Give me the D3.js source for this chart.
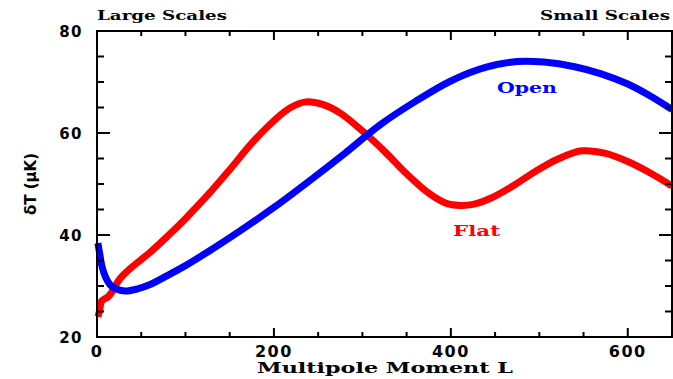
<!DOCTYPE html>
<html>
<head>
<meta charset="utf-8">
<script src="https://cdn.jsdelivr.net/npm/d3@7/dist/d3.min.js"></script>
<style>
  html, body { margin: 0; padding: 0; background: #fff; }
  svg { display: block; }
</style>
</head>
<body>
<svg id="chart" width="673" height="379"></svg>
<script>
// Multipole moment L for each curve, with the temperature fluctuation dT in microkelvin
const flatL  = [1, 3, 5, 8, 12, 16, 20, 25, 30, 40, 60, 80, 100, 125, 150, 175, 200, 218, 236, 255, 275, 300, 325, 350, 375, 395, 410, 425, 445, 470, 495, 520, 548, 575, 600, 625, 650];
const flatT  = [24.0, 25.2, 27.0, 27.4, 27.8, 28.6, 29.8, 31.2, 32.2, 33.8, 36.6, 39.8, 43.2, 47.8, 52.8, 58.0, 62.4, 64.9, 66.1, 65.6, 63.9, 60.4, 56.4, 52.0, 48.2, 46.2, 45.8, 46.0, 47.2, 49.6, 52.4, 54.8, 56.5, 56.0, 54.4, 52.2, 49.6];

const openL  = [1, 3, 6, 10, 15, 22, 32, 45, 60, 80, 100, 130, 160, 200, 240, 280, 320, 360, 400, 440, 475, 505, 540, 570, 600, 625, 650];
const openT  = [38.4, 36.4, 33.6, 31.6, 30.2, 29.4, 29.0, 29.4, 30.3, 32.1, 34.0, 37.2, 40.6, 45.4, 50.6, 56.0, 61.6, 66.2, 70.2, 72.9, 74.0, 73.9, 73.0, 71.6, 69.6, 67.3, 64.6];

const xTicks = [0, 200, 400, 600];
const yTicks = [20, 40, 60, 80];
const xMinor = d3.range(0, 651, 50);
const yMinor = d3.range(20, 81, 5);

const svg = d3.select("#chart");
const m = { left: 97, right: 672, top: 31, bottom: 337 };

const x = d3.scaleLinear().domain([0, 650]).range([m.left, m.right]);
const y = d3.scaleLinear().domain([20, 80]).range([m.bottom, m.top]);

const serif = "'DejaVu Serif', 'Liberation Serif', serif";
const sans  = "'DejaVu Sans', 'Liberation Sans', sans-serif";

// Curves
const line = d3.line()
  .x(d => x(d[0]))
  .y(d => y(d[1]))
  .curve(d3.curveCatmullRom.alpha(0.5));

const plot = svg.append("g");
plot.append("defs").append("clipPath").attr("id", "clip")
  .append("rect").attr("x", m.left - 4).attr("y", m.top).attr("width", m.right - m.left + 4).attr("height", m.bottom - m.top);

plot.append("path")
  .datum(d3.zip(flatL, flatT))
  .attr("d", line)
  .attr("fill", "none")
  .attr("stroke", "#ff0000")
  .attr("stroke-width", 7)
  .attr("clip-path", "url(#clip)");

plot.append("path")
  .datum(d3.zip(openL, openT))
  .attr("d", line)
  .attr("fill", "none")
  .attr("stroke", "#0000ff")
  .attr("stroke-width", 7)
  .attr("clip-path", "url(#clip)");

// Frame with inward ticks on all four sides
const frame = svg.append("g").attr("stroke", "#000").attr("stroke-width", 2);
frame.append("rect")
  .attr("x", m.left).attr("y", m.top)
  .attr("width", m.right - m.left).attr("height", m.bottom - m.top)
  .attr("fill", "none");

xMinor.forEach(v => {
  const len = xTicks.includes(v) ? 9 : 5;
  frame.append("line").attr("x1", x(v)).attr("x2", x(v)).attr("y1", m.bottom).attr("y2", m.bottom - len);
  frame.append("line").attr("x1", x(v)).attr("x2", x(v)).attr("y1", m.top).attr("y2", m.top + len);
});
yMinor.forEach(v => {
  const len = yTicks.includes(v) ? 13 : 7;
  frame.append("line").attr("x1", m.left).attr("x2", m.left + len).attr("y1", y(v)).attr("y2", y(v));
  frame.append("line").attr("x1", m.right).attr("x2", m.right - len).attr("y1", y(v)).attr("y2", y(v));
});

// Tick labels
svg.append("g").selectAll("text").data(xTicks).join("text")
  .attr("x", d => x(d))
  .attr("y", 357)
  .attr("text-anchor", "middle")
  .attr("font-family", sans).attr("font-weight", "bold").attr("font-size", 16)
  .attr("letter-spacing", 1.5)
  .text(d => d);

svg.append("g").selectAll("text").data(yTicks).join("text")
  .attr("x", 83)
  .attr("y", d => y(d) + 6)
  .attr("text-anchor", "end")
  .attr("font-family", sans).attr("font-weight", "bold").attr("font-size", 15)
  .attr("letter-spacing", 1.5)
  .text(d => d);

// Axis titles
svg.append("text")
  .attr("x", 257).attr("y", 373)
  .attr("textLength", 256).attr("lengthAdjust", "spacingAndGlyphs")
  .attr("font-family", serif).attr("font-weight", "bold").attr("font-size", 15)
  .text("Multipole Moment L");

svg.append("text")
  .attr("transform", "translate(36,184) rotate(-90)")
  .attr("text-anchor", "middle")
  .attr("font-family", sans).attr("font-weight", "bold").attr("font-size", 15)
  .text("δT (μK)");

// Scale annotations above the frame
svg.append("text")
  .attr("x", 97).attr("y", 20)
  .attr("textLength", 130).attr("lengthAdjust", "spacingAndGlyphs")
  .attr("font-family", serif).attr("font-weight", "bold").attr("font-size", 12)
  .text("Large Scales");

svg.append("text")
  .attr("x", 540).attr("y", 20)
  .attr("textLength", 130).attr("lengthAdjust", "spacingAndGlyphs")
  .attr("font-family", serif).attr("font-weight", "bold").attr("font-size", 12)
  .text("Small Scales");

// Curve labels
svg.append("text")
  .attr("x", 497).attr("y", 93)
  .attr("textLength", 60).attr("lengthAdjust", "spacingAndGlyphs")
  .attr("font-family", serif).attr("font-weight", "bold").attr("font-size", 15)
  .attr("fill", "#0000ff")
  .text("Open");

svg.append("text")
  .attr("x", 453).attr("y", 236)
  .attr("textLength", 47).attr("lengthAdjust", "spacingAndGlyphs")
  .attr("font-family", serif).attr("font-weight", "bold").attr("font-size", 15)
  .attr("fill", "#ff0000")
  .text("Flat");
</script>
</body>
</html>
